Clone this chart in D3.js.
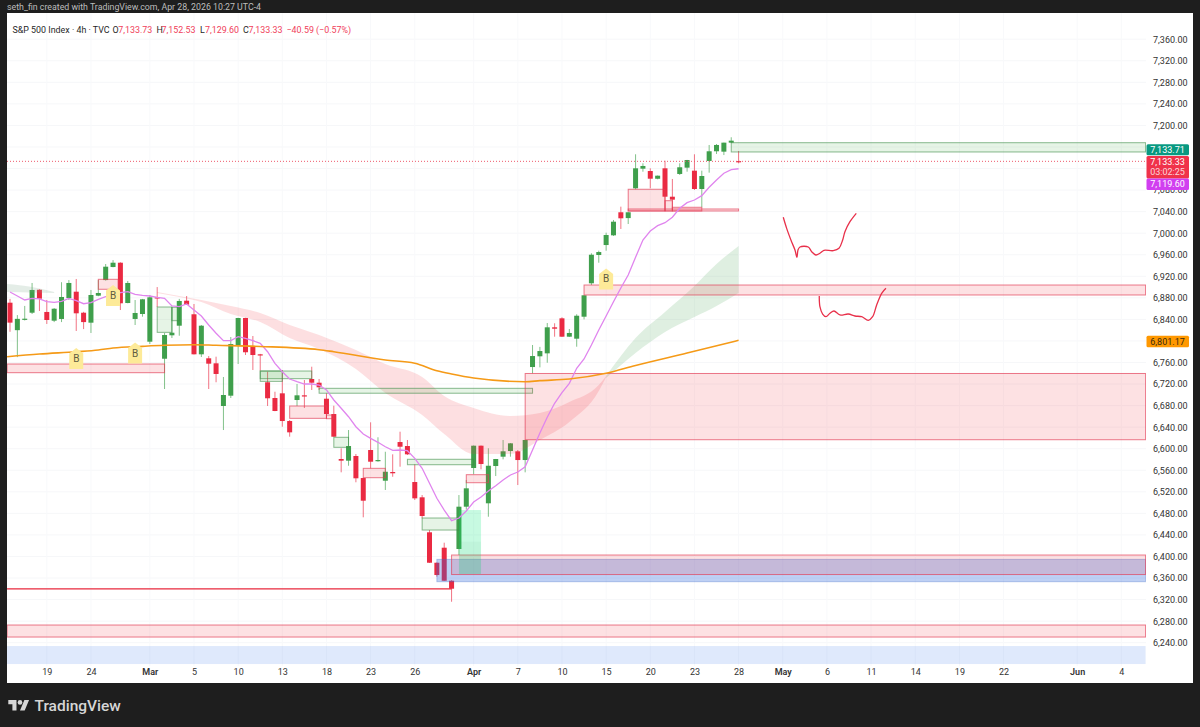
<!DOCTYPE html>
<html><head><meta charset="utf-8">
<script src="https://cdnjs.cloudflare.com/ajax/libs/d3/7.8.5/d3.min.js"></script>
<style>html,body{margin:0;padding:0;background:#1e1e1e}svg{display:block}text{font-family:Roboto,sans-serif}</style>
</head><body><svg id="c" width="1200" height="727"></svg>
<script>
const opens=[6871,6820,6839.4,6852.4,6895,6853.8,6837.6,6840.8,6879.7,6891.4,6852.4,6833.9,6884,6913,6937.2,6945.2,6870.4,6840.8,6850,6798.6,6881,6767,6810.5,6828.3,6874.7,6849.5,6775.2,6767.8,6758.5,6679.3,6698.4,6792.5,6842.6,6790.6,6775.2,6723.3,6694.1,6702.8,6651.4,6690.4,6699.1,6729.4,6722.5,6692.8,6664.4,6580.9,6577.8,6586.5,6545.6,6597.6,6577,6540.6,6556.8,6612.4,6605,6538.2,6509.8,6444.9,6388.4,6416.3,6355,6413.9,6492.4,6564.2,6605.6,6498.7,6567.9,6585.2,6595.7,6595.2,6579,6751.6,6771.5,6777,6825.3,6842,6807.9,6804.2,6845,6907,6959.5,6978,6996,7038.8,7028,7083.3,7119.7,7115.4,7101,7120.4,7067.7,7109.9,7121.6,7116,7082,7134,7152,7151.3,7168,7133.73];
const highs=[6878,6848,6865,6907.6,6896,6876,6861,6909,6913,6915,6854,6894.6,6913,6942.8,6950,6946,6911.3,6876,6878,6885.3,6900,6814.8,6863,6878,6883.4,6868.6,6829.6,6772,6770.8,6733.1,6807.3,6843,6843,6809.2,6776,6742.9,6705.8,6746,6653.3,6720.1,6727.5,6752.2,6729.4,6702.8,6679.8,6600.8,6634.7,6590.2,6546,6649,6621.2,6594.4,6589.6,6631.6,6616.2,6571,6514,6449,6389,6425.6,6356,6514,6541.9,6606,6606,6600.8,6581,6616.2,6610.5,6597.6,6616.5,6792.5,6789,6833.3,6832.8,6843.9,6822.2,6849.5,6885,6962.7,6967.5,7000.9,7024.5,7049.2,7039,7146.4,7129.7,7120.4,7107,7134.5,7100.6,7129.7,7136,7146.4,7116,7163.7,7165.5,7168,7178,7152.53];
const lows=[6817,6770,6838,6850,6855.6,6831.5,6835,6835,6876,6818.5,6822,6814.8,6883,6912,6936.7,6857.4,6869.9,6829.6,6845,6794.3,6863,6710.8,6805.5,6809.7,6866.7,6775,6770.2,6710.8,6723.3,6634.7,6694.1,6757.2,6773.9,6746.1,6744.8,6679.3,6669.6,6640.8,6622.3,6679.3,6675.6,6709,6709,6656.4,6622,6556.2,6568.4,6537.7,6472.7,6563.6,6575.9,6523.4,6548,6566.6,6588.3,6504.8,6470.8,6388,6362.5,6354.7,6316,6402.7,6487,6552.6,6561.8,6473.8,6549.3,6580.3,6585.2,6532.6,6556.2,6739.9,6751,6759.6,6807.9,6807.5,6807.5,6789.3,6840,6903.8,6945.2,6967.5,6994.8,7007.8,7017,7081.5,7114.1,7083.3,7100,7041.2,7043,7108,7114.1,7080.2,7048,7112.3,7147,7145,7167,7129.6];
const closes=[6834,6841,6841.3,6894.6,6878.4,6838.9,6859.8,6881.6,6907.6,6851.3,6835,6885.3,6889,6937.8,6945.2,6869.9,6907.6,6851.9,6877.3,6881,6879.7,6811,6815.3,6874.2,6867.3,6775.2,6828.3,6757.8,6738.7,6699.7,6794.3,6842.6,6779,6773.9,6773.3,6693.6,6670,6651.4,6630.4,6699.1,6697.3,6722.5,6714,6664.4,6622.3,6577.8,6605,6545.1,6503.5,6575.9,6579,6557.3,6554.4,6603.7,6589.6,6507.9,6475.1,6388.4,6365.6,6355,6340.2,6492.4,6526.5,6605.6,6571.6,6568.4,6580.9,6595.2,6610,6579,6616.2,6772,6781.3,6825.3,6822.7,6807.9,6814.8,6846.8,6884.7,6960,6965,6996.6,7021.3,7027.6,7038.8,7120.4,7124.7,7101.1,7106.7,7067.7,7062.2,7122.3,7135.8,7082,7106.1,7152,7163.7,7168,7171.7,7133.33];
const fastMA=[6890.9,6883.4,6876,6879.1,6877.9,6872.8,6871.7,6873.6,6879.1,6874.7,6869.1,6871,6877.3,6882.1,6885.3,6889.6,6891.4,6886.6,6884.7,6883.4,6881,6879.1,6864.9,6863.6,6868.6,6857.4,6846.3,6829.6,6814.2,6800.5,6800.5,6807.9,6804.9,6800.5,6795.6,6780,6758.5,6742.9,6729.4,6724.4,6720.1,6720.1,6718.2,6709,6690.4,6675,6659.4,6640.8,6627.3,6619.3,6611.9,6603.7,6597,6597.6,6596.3,6582.2,6563.6,6535.8,6508,6486.2,6466.4,6471.4,6484.4,6501.1,6510.4,6521.5,6531.4,6541.9,6551.2,6556.8,6566.6,6597.6,6629.2,6658.3,6684.3,6704,6721.4,6749.2,6766.5,6792.5,6820.3,6846.3,6872.8,6898.3,6922.4,6955.3,6987.4,7004.1,7013.9,7019.5,7029.5,7046.2,7056.6,7061.6,7069.6,7085.2,7098.7,7111.2,7117.8,7119.6];
const slowBars=[-0.4,4,9,12,14,18,21,25,28,34,42,44,51,55,58,60,63,70,72,76,81,85,92,99];
const slowVals=[6770.8,6775.8,6780,6783.2,6786.9,6790,6791.9,6793,6791.9,6789.7,6783.8,6780,6764.6,6758.5,6744.8,6738.7,6731.2,6724.4,6726.3,6729.4,6740,6754.5,6777.6,6801.17];
const redCloudBars=[20,23,26,30,34,38,42,47,51,56,59,63,68,72,76,80,81];
const redCloudTop=[6890.9,6883.4,6876,6864.9,6851.9,6829.6,6811,6783.2,6757.2,6733.1,6697.8,6675.6,6660.7,6666.3,6686.7,6718.2,6734.9];
const redCloudBottom=[6889,6881.6,6872.3,6850,6835.2,6805.5,6785.1,6748,6703.4,6662.6,6627.3,6590.2,6590.2,6616.2,6649.6,6707,6733.1];
const greenCloudBars=[81,85,89,93,96,99];
const greenCloudTop=[6734.9,6805.5,6853.7,6902,6942.8,6976.2];
const greenCloudBottom=[6731.2,6777.6,6816.6,6844.4,6864.9,6889];
const greyCloudBars=[-0.4,3,6];
const greyCloudTop=[6905.7,6900.2,6890.9];
const greyCloudBottom=[6890.9,6890,6889];
// zones: [first bar, last bar, top price, bottom price]
const redZones=[[-0.4,21,6757.2,6741.1],[12,14.7,6914.4,6895.9],[38,43,6679.3,6656.4],[43,44,6662.6,6655.7],[48,51,6563.6,6546.2],[62,65,6551.8,6536.9],[70,154.3,6739.6,6616.7],[78,154.3,6903.8,6885.3],[84,89,7081.5,7041.2],[89,90,7060.3,7041.2],[90,94,7048.1,7041.2],[84,99,7044.9,7041.2],[60,154.3,6402.7,6366.5],[-0.4,154.3,6272.8,6250.5]];
const greenZones=[[20,22,6863,6816],[22,23,6862.5,6837.6],[34,41,6744.2,6730],[34,37,6744.2,6725],[42,71,6712.1,6703],[44,46,6621.2,6602.6],[54,63,6580.4,6570.3],[56,61,6471.4,6449.1],[98,154.3,7167.9,7150.7]];
const blueZones=[[58,154.3,6394.7,6353.2]];
const paleBlueZones=[[-0.4,154.3,6233.8,6200.4]];
const mintZones=[[61,64,6486.2,6367.5]];
const mintInnerZones=[[61,64,6427.4,6367.5]];
const lowLine=[-0.4,60,6340];
const sketchOneBars=[105.07,105.53,106.2,106.66,106.93,107.07,107.34,108.46,108.93,109.5,110.05,110.6,111.86,112.64,113.14,113.45,114.13,114.99];
const sketchOneVals=[7029.5,7009,6984.2,6968.8,6955.2,6968.8,6974.4,6974.4,6965.6,6959.5,6962.7,6968.2,6967.5,6972,6987.4,7002.8,7021.3,7036.9];
const sketchTwoBars=[109.96,110.05,110.42,110.87,111.41,111.96,112.77,113.9,114.81,115.72,116.62,117.21,117.76,118.44,119.02];
const sketchTwoVals=[6883.4,6863.6,6850,6845,6851.3,6855.6,6848.2,6850,6846.3,6845,6838.3,6845,6866.7,6888.4,6897.7];
const markerBars=[9,17,14,81];
const markerVals=[6767.4,6777.6,6884.4,6915];
const priceTicks=[7360,7320,7280,7240,7200,7080,7040,7000,6960,6920,6880,6840,6760,6720,6680,6640,6600,6560,6520,6480,6440,6400,6360,6320,6280,6240];
const gridPrices=[7360,7320,7280,7240,7200,7160,7120,7080,7040,7000,6960,6920,6880,6840,6800,6760,6720,6680,6640,6600,6560,6520,6480,6440,6400,6360,6320,6280,6240];
const timeBars=[5,11,19,25,31,37,43,49,55,63,69,75,81,87,93,99,105,111,117,123,129,135,145,151];
const timeLabels=["19","24","Mar","5","10","13","18","23","26","Apr","7","10","15","20","23","28","May","6","11","14","19","22","Jun","4"];
const monthLabels=["Mar","Apr","May","Jun"];
const lastPrice=7133.33;
const legendParts=[["S&P 500 Index · 4h · TVC","#1f1f1f"],["O","#1f1f1f"],["7,133.73","#f0405a"],["H","#1f1f1f"],["7,152.53","#f0405a"],["L","#1f1f1f"],["7,129.60","#f0405a"],["C","#1f1f1f"],["7,133.33","#f0405a"],["−40.59 (−0.57%)","#f0405a"]];
const legendX=[12.5,112.5,118.3,156.5,161.5,200,205,243,248.5,286.5];

const svg=d3.select("#c");
const L=7,R=1146,T=13,B=683,PR=1193;
const x=d3.scaleLinear().domain([0,99]).range([10,738.6]);
const y=d3.scaleLinear().domain([6240,7360]).range([642.7,39.2]);
svg.append("rect").attr("width",1200).attr("height",727).attr("fill","#1e1e1e");
svg.append("rect").attr("x",L).attr("y",T).attr("width",PR-L).attr("height",B-T).attr("fill","#fff");
svg.append("defs").append("clipPath").attr("id","p").append("rect").attr("x",L).attr("y",T).attr("width",R-L).attr("height",B-T);
const g=svg.append("g").attr("clip-path","url(#p)");
g.selectAll("line.h").data(gridPrices).join("line").attr("x1",L).attr("x2",R).attr("y1",d=>y(d)).attr("y2",d=>y(d)).attr("stroke","#f6f7f9");
g.selectAll("line.v").data(timeBars).join("line").attr("y1",T).attr("y2",B-17).attr("x1",d=>x(d)).attr("x2",d=>x(d)).attr("stroke","#f8f9fb");
// candles
const bars=d3.range(opens.length);
const GREEN="#3f9f4c",RED="#ea2a42";
const col=i=>closes[i]>=opens[i]?GREEN:RED;
g.selectAll("line.w").data(bars).join("line").attr("x1",x).attr("x2",x).attr("y1",i=>y(highs[i])).attr("y2",i=>y(lows[i])).attr("stroke",col).attr("stroke-opacity",.65).attr("stroke-width",1);
g.selectAll("rect.b").data(bars).join("rect").attr("x",i=>x(i)-2.5).attr("width",5).attr("y",i=>y(Math.max(opens[i],closes[i]))).attr("height",i=>Math.max(1.2,Math.abs(y(opens[i])-y(closes[i])))).attr("fill",col);
// clouds
function cloud(bs,top,bot,fill){const a=d3.area().x((d,i)=>x(bs[i])).y0((d,i)=>y(bot[i])).y1((d,i)=>y(top[i])).curve(d3.curveMonotoneX);g.append("path").attr("d",a(bs)).attr("fill",fill);}
cloud(greyCloudBars,greyCloudTop,greyCloudBottom,"rgba(120,165,135,.2)");
cloud(redCloudBars,redCloudTop,redCloudBottom,"rgba(242,54,69,.16)");
cloud(greenCloudBars,greenCloudTop,greenCloudBottom,"rgba(76,165,90,.18)");
// zones
function zones(data,fill,stroke,w){g.append("g").selectAll("rect").data(data).join("rect").attr("x",d=>x(d[0])).attr("width",d=>x(d[1])-x(d[0])).attr("y",d=>y(d[2])).attr("height",d=>y(d[3])-y(d[2])).attr("fill",fill).attr("stroke",stroke).attr("stroke-width",w);}
zones(paleBlueZones,"rgba(41,110,235,.15)","none",0);
zones(blueZones,"rgba(41,98,220,.3)","rgba(70,110,200,.35)",1);
zones(greenZones,"rgba(76,175,80,.14)","rgba(60,140,70,.6)",1);
zones(redZones,"rgba(242,54,69,.15)","rgba(225,60,85,.68)",1);
zones(mintZones,"rgba(0,230,118,.22)","none",0);
zones(mintInnerZones,"rgba(60,130,100,.05)","none",0);
// lines
g.append("path").attr("d",d3.line()([[x(lowLine[0]),y(lowLine[2])],[x(lowLine[1]),y(lowLine[2])]])).attr("stroke","#e8283c").attr("stroke-width",1.3).attr("fill","none");
g.append("line").attr("x1",L).attr("x2",R).attr("y1",y(lastPrice)).attr("y2",y(lastPrice)).attr("stroke","#ee5a6c").attr("stroke-dasharray","1 2").attr("stroke-width",1);
g.append("path").attr("d",d3.line().x(d=>x(d)).y(d=>y(fastMA[d]))(bars)).attr("fill","none").attr("stroke","#e085ee").attr("stroke-width",1.3);
g.append("path").attr("d",d3.line().x((d,i)=>x(d)).y((d,i)=>y(slowVals[i])).curve(d3.curveMonotoneX)(slowBars)).attr("fill","none").attr("stroke","#f59a17").attr("stroke-width",1.6);
function sketch(bs,vs){g.append("path").attr("d",d3.line().x((d,i)=>x(d)).y((d,i)=>y(vs[i])).curve(d3.curveCatmullRom)(bs)).attr("fill","none").attr("stroke","#e8304a").attr("stroke-width",1.3);}
sketch(sketchOneBars,sketchOneVals);sketch(sketchTwoBars,sketchTwoVals);
// markers
const mk=g.append("g").selectAll("g").data(markerBars).join("g").attr("transform",(d,i)=>`translate(${x(d)},${y(markerVals[i])})`);
mk.append("path").attr("d","M-7,10.5V-5L0,-10.5L7,-5V10.5Z").attr("fill","#fdea98");
mk.append("text").attr("y",3.5).attr("text-anchor","middle").attr("font-size",10).attr("fill","#5f5c40").text("B");
// axes
const ay=svg.append("g").attr("transform",`translate(${R+7},0)`).call(d3.axisRight(y).tickValues(priceTicks).tickSize(0).tickPadding(0).tickFormat(d3.format(",.2f")));
ay.select(".domain").remove();ay.selectAll("text").attr("font-size",9).attr("font-family","Roboto").attr("fill","#333");
const ax=svg.append("g").attr("transform",`translate(0,${B-14})`).call(d3.axisBottom(x).tickValues(timeBars).tickSize(0).tickPadding(0).tickFormat((d,i)=>timeLabels[i]));
ax.select(".domain").remove();ax.selectAll("text").attr("font-size",9).attr("font-family","Roboto").attr("fill","#333").attr("font-weight",(d,i)=>monthLabels.includes(timeLabels[i])?600:400);
// tags
const tags=[[144.3,11,"#089981",["7,133.71"]],[156,22.5,"#f0324a",["7,133.33","03:02:25"]],[178.5,11.5,"#d13ff0",["7,119.60"]],[335.7,11.6,"#ff9800",["6,801.17"]]];
tags.forEach(t=>{const c=t[2]==="#ff9800"?"#3a2a10":"#fff";
 svg.append("rect").attr("x",R+.5).attr("y",t[0]).attr("width",42.5).attr("height",t[1]).attr("rx",1.5).attr("fill",t[2]);
 t[3].forEach((s,i)=>svg.append("text").attr("x",R+21.5).attr("y",t[0]+8.8+i*10.5).attr("text-anchor","middle").attr("font-size",9).attr("fill",c).attr("fill-opacity",i?.8:1).text(s));});
// header & legend
svg.append("text").attr("x",7).attr("y",10).attr("font-size",8.8).attr("fill","#bdbdbd").text("seth_fin created with TradingView.com, Apr 28, 2026 10:27 UTC-4");
legendParts.forEach((p,i)=>svg.append("text").attr("x",legendX[i]).attr("y",32.5).attr("font-size",8.9).attr("fill",p[1]).text(p[0]));
// footer logo
const lg=svg.append("g").attr("transform","translate(8.3,697.7) scale(.585)").attr("fill","#d6d6d6");
lg.append("path").attr("d","M14 22H7V11H0V4h14v18zM28 22h-8l7.5-18h8L28 22z");lg.append("circle").attr("cx",20).attr("cy",8).attr("r",4);
svg.append("text").attr("x",34.5).attr("y",711).attr("font-size",15.5).attr("font-weight",500).attr("fill","#d6d6d6").text("TradingView");
</script></body></html>
